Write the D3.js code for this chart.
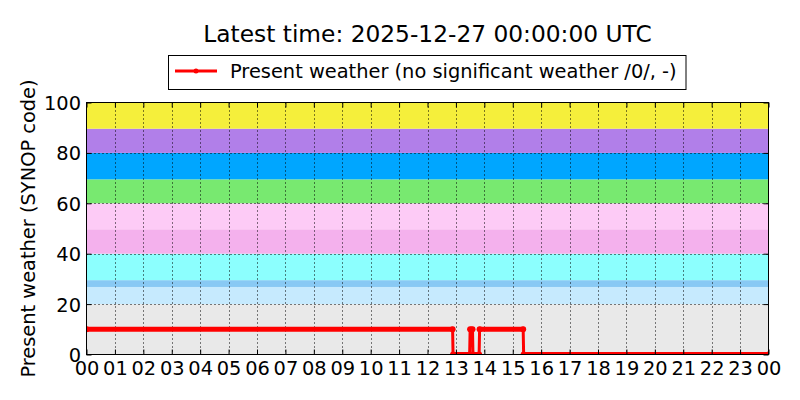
<!DOCTYPE html>
<html>
<head>
<meta charset="utf-8">
<script src="https://cdn.jsdelivr.net/npm/d3@7"></script>
<style>
  body { margin: 0; background: #fff; }
  svg { font-family: "DejaVu Sans", sans-serif; }
</style>
</head>
<body>
<div id="chart"></div>
<script>
// present weather observations (UTC) and SYNOP code
const obsTimes = [
  '2025-12-26T00:00Z', '2025-12-26T12:53Z', '2025-12-26T12:54Z',
  '2025-12-26T13:29Z', '2025-12-26T13:30Z', '2025-12-26T13:35Z',
  '2025-12-26T13:36Z', '2025-12-26T13:49Z', '2025-12-26T13:50Z',
  '2025-12-26T15:22Z', '2025-12-26T15:23Z', '2025-12-27T00:00Z'
];
const obsCodes = [10, 10, 0, 0, 10, 10, 0, 0, 10, 10, 0, 0];

// background bands of code groups
const bandLow = [0, 20, 26.8, 29.5, 40, 49.7, 60, 69.5, 80, 89.6];
const bandHigh = [20, 26.8, 29.5, 40, 49.7, 60, 69.5, 80, 89.6, 100];
const bandColors = ['#e9e9e9', '#c6eafe', '#88c9f4', '#8cfffe', '#f4b1ed',
  '#fdcbf6', '#78e970', '#00a6ff', '#b17fe9', '#f5ef3b'];

const yTicks = [0, 20, 40, 60, 80, 100];
const dayStart = '2025-12-26T00:00Z';
const dayEnd = '2025-12-27T00:00Z';

const titleText = 'Latest time: 2025-12-27 00:00:00 UTC';
const legendText = 'Present weather (no significant weather /0/, -)';
const yLabel = 'Present weather (SYNOP code)';

let width = 800;
let height = 400;
let plotLeft = 86.5, plotRight = 768.5, plotTop = 102.5, plotBottom = 354.5;

const data = obsTimes.map((t, i) => ({ t: new Date(t), v: obsCodes[i] }));

const x = d3.scaleUtc()
  .domain([new Date(dayStart), new Date(dayEnd)])
  .range([plotLeft, plotRight]);

const y = d3.scaleLinear()
  .domain([0, 100])
  .range([plotBottom, plotTop]);

const svg = d3.select('#chart').append('svg')
  .attr('width', width)
  .attr('height', height);

svg.append('defs').append('clipPath')
  .attr('id', 'plot-clip')
  .append('rect')
  .attr('x', plotLeft)
  .attr('y', plotTop)
  .attr('width', plotRight - plotLeft)
  .attr('height', plotBottom - plotTop);

// bands
svg.append('g').selectAll('rect')
  .data(bandLow)
  .join('rect')
  .attr('x', plotLeft)
  .attr('width', plotRight - plotLeft)
  .attr('y', (d, i) => y(bandHigh[i]))
  .attr('height', (d, i) => y(d) - y(bandHigh[i]))
  .attr('fill', (d, i) => bandColors[i]);

// dotted grid
const hours = x.ticks(d3.utcHour.every(1));
const grid = svg.append('g')
  .attr('stroke', '#000')
  .attr('stroke-width', 1)
  .attr('stroke-dasharray', '1,3');

grid.selectAll('.vgrid')
  .data(hours.slice(1, -1))
  .join('line')
  .attr('class', 'vgrid')
  .attr('x1', d => Math.round(x(d)) + 0.5)
  .attr('x2', d => Math.round(x(d)) + 0.5)
  .attr('y1', plotTop)
  .attr('y2', plotBottom);

grid.selectAll('.hgrid')
  .data(yTicks.slice(1, -1))
  .join('line')
  .attr('class', 'hgrid')
  .attr('x1', plotLeft)
  .attr('x2', plotRight)
  .attr('y1', d => Math.round(y(d)) + 0.5)
  .attr('y2', d => Math.round(y(d)) + 0.5);

// series
const plot = svg.append('g').attr('clip-path', 'url(#plot-clip)');

// dense markers along the flat runs
const runs = d3.pairs(data).filter(p => p[0].v === p[1].v);
plot.selectAll('.run')
  .data(runs)
  .join('line')
  .attr('class', 'run')
  .attr('x1', d => x(d[0].t))
  .attr('x2', d => x(d[1].t))
  .attr('y1', d => y(d[0].v))
  .attr('y2', d => y(d[1].v))
  .attr('stroke', '#ff0000')
  .attr('stroke-width', 5)
  .attr('stroke-linecap', 'round');

plot.append('path')
  .datum(data)
  .attr('fill', 'none')
  .attr('stroke', '#ff0000')
  .attr('stroke-width', 3)
  .attr('stroke-linejoin', 'round')
  .attr('d', d3.line().x(d => x(d.t)).y(d => y(d.v)));

plot.selectAll('circle')
  .data(data)
  .join('circle')
  .attr('cx', d => x(d.t))
  .attr('cy', d => y(d.v))
  .attr('r', 3)
  .attr('fill', '#ff0000');

// frame
svg.append('rect')
  .attr('x', plotLeft)
  .attr('y', plotTop)
  .attr('width', plotRight - plotLeft)
  .attr('height', plotBottom - plotTop)
  .attr('fill', 'none')
  .attr('stroke', '#000')
  .attr('stroke-width', 1);

// axes with inward ticks
const fontSize = 19.4;

const xAxisG = svg.append('g')
  .attr('transform', `translate(0,${plotBottom})`)
  .call(d3.axisBottom(x)
    .ticks(d3.utcHour.every(1))
    .tickFormat(d3.utcFormat('%H'))
    .tickSizeInner(-5)
    .tickSizeOuter(0));
xAxisG.select('.domain').remove();
xAxisG.selectAll('text')
  .attr('y', 20.5)
  .attr('dy', 0)
  .attr('fill', '#000')
  .style('font-size', fontSize + 'px')
  .style('font-family', '"DejaVu Sans"');

svg.append('g')
  .attr('transform', `translate(0,${plotTop})`)
  .call(d3.axisTop(x)
    .ticks(d3.utcHour.every(1))
    .tickFormat('')
    .tickSizeInner(-5)
    .tickSizeOuter(0))
  .select('.domain').remove();

const yAxisG = svg.append('g')
  .attr('transform', `translate(${plotLeft},0)`)
  .call(d3.axisLeft(y)
    .tickValues(yTicks)
    .tickSizeInner(-5)
    .tickSizeOuter(0));
yAxisG.select('.domain').remove();
yAxisG.selectAll('text')
  .attr('x', -5.5)
  .attr('dy', '0.36em')
  .attr('fill', '#000')
  .style('font-size', fontSize + 'px')
  .style('font-family', '"DejaVu Sans"');

svg.append('g')
  .attr('transform', `translate(${plotRight},0)`)
  .call(d3.axisRight(y)
    .tickValues(yTicks)
    .tickFormat('')
    .tickSizeInner(-5)
    .tickSizeOuter(0))
  .select('.domain').remove();

svg.selectAll('.tick line').attr('stroke', '#000');

// y label
svg.append('text')
  .attr('transform', `translate(35,${(plotTop + plotBottom) / 2}) rotate(-90)`)
  .attr('text-anchor', 'middle')
  .style('font-size', fontSize + 'px')
  .text(yLabel);

// title
svg.append('text')
  .attr('x', (plotLeft + plotRight) / 2)
  .attr('y', 42)
  .attr('text-anchor', 'middle')
  .style('font-size', '23.3px')
  .text(titleText);

// legend
const legend = svg.append('g');
legend.append('rect')
  .attr('x', 168.5)
  .attr('y', 55.5)
  .attr('width', 517.5)
  .attr('height', 34)
  .attr('fill', '#fff')
  .attr('stroke', '#000');
legend.append('line')
  .attr('x1', 175)
  .attr('x2', 217)
  .attr('y1', 71)
  .attr('y2', 71)
  .attr('stroke', '#ff0000')
  .attr('stroke-width', 3);
legend.append('circle')
  .attr('cx', 196)
  .attr('cy', 71)
  .attr('r', 2.5)
  .attr('fill', '#ff0000');
legend.append('text')
  .attr('x', 230)
  .attr('y', 78)
  .style('font-size', fontSize + 'px')
  .text(legendText);
</script>
</body>
</html>
